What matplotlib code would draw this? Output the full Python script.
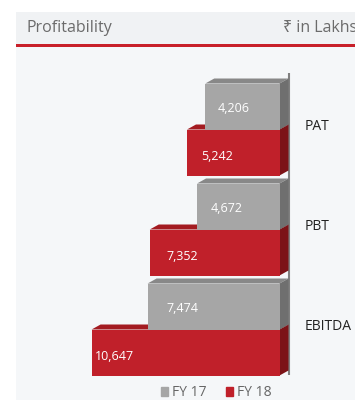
import matplotlib
matplotlib.use('Agg')
import matplotlib.pyplot as plt
from matplotlib.patches import Rectangle, Polygon

plt.rcParams['font.family'] = ['Open Sans', 'Noto Sans', 'DejaVu Sans']

# Profitability, values in lakhs
categories = ['EBITDA', 'PBT', 'PAT']
fy17 = [7474, 4672, 4206]
fy18 = [10647, 7352, 5242]
series_names = ['FY 17', 'FY 18']

# face colours: front, top, side
gray = ('#a6a6a6', '#888888', '#6f6f6f')
red = ('#c0202a', '#a31b21', '#7c1317')

W, H = 355, 400
fig = plt.figure(figsize=(W / 100, H / 100), dpi=100)
fig.patch.set_facecolor('white')

# panel and header band
fig.add_artist(Rectangle((16 / W, 0), 1, 1 - 12 / H, transform=fig.transFigure,
                         facecolor='#f5f7f9', edgecolor='none', zorder=0))
fig.add_artist(Rectangle((16 / W, 1 - 44 / H), 1, 32 / H, transform=fig.transFigure,
                         facecolor='#f0f2f4', edgecolor='none', zorder=0))
fig.add_artist(Rectangle((16 / W, 1 - 46.5 / H), 1, 2.5 / H, transform=fig.transFigure,
                         facecolor='#c8202a', edgecolor='none', zorder=1))
fig.text(27 / W, 1 - 28 / H, 'Profitability', fontsize=11.5, color='#6b6b6b',
         va='center', ha='left')
fig.text(283 / W, 1 - 28 / H, '₹ in Lakhs', fontsize=11.5, color='#6b6b6b',
         va='center', ha='left')

px_per_unit = 0.01765
ax_left, ax_right = 16, 279.5
ax = fig.add_axes([ax_left / W, 1 - 379.5 / H, (ax_right - ax_left) / W, 300 / H])
ax.set_xlim((ax_right - ax_left) / px_per_unit, 0)
ax.set_ylim(-0.5, 2.5)
ax.axis('off')
ax.patch.set_alpha(0)

bh = 0.46
depth_x = 9 / px_per_unit   # side depth in data units (to the right)
depth_y = 0.05              # top depth in data units (upwards)

# back wall line
ax.plot([-depth_x, -depth_x], [2.57, -0.45], color='#808080', lw=1.5,
        clip_on=False, zorder=1, solid_capstyle='butt')


def bar3d(y, vals, cols, z):
    bars = ax.barh(y, vals, height=bh, color=cols[0], zorder=z + 0.2)
    for b in bars:
        v = b.get_width()
        y0, y1 = b.get_y(), b.get_y() + b.get_height()
        top = [(v, y1), (0, y1), (-depth_x, y1 + depth_y), (v - depth_x, y1 + depth_y)]
        side = [(0, y0), (0, y1), (-depth_x, y1 + depth_y), (-depth_x, y0 + depth_y)]
        ax.add_patch(Polygon(top, closed=True, facecolor=cols[1], edgecolor='none',
                             zorder=z, clip_on=False))
        ax.add_patch(Polygon(side, closed=True, facecolor=cols[2], edgecolor='none',
                             zorder=z + 0.1, clip_on=False))
    return bars


pos = list(range(len(categories)))
red_bars = bar3d([p - bh / 2 for p in pos], fy18, red, 2)
gray_bars = bar3d([p + bh / 2 for p in pos], fy17, gray, 3)

# value labels, inset from the bar's left end (in px)
pads17 = [19, 14, 12]
pads18 = [3, 17, 14]
for bars, vals, pads, dy in [(gray_bars, fy17, pads17, -0.015), (red_bars, fy18, pads18, -0.035)]:
    for b, v, p in zip(bars, vals, pads):
        ax.annotate(f'{v:,}', xy=(v, b.get_y() + bh / 2 + dy),
                    xytext=(p * 0.72, 0), textcoords='offset points',
                    ha='left', va='center', color='white', fontsize=9, zorder=5)

for p, c in zip(pos, categories):
    ax.annotate(c, xy=(0, p + 0.03), xytext=(25.5 * 0.72, 0), textcoords='offset points',
                ha='left', va='center', fontsize=10, color='#222222', annotation_clip=False)

handles = [Rectangle((0, 0), 1, 1, color=gray[0]), Rectangle((0, 0), 1, 1, color=red[0])]
fig.legend(handles, series_names, loc='center', bbox_to_anchor=(216 / W, 1 - 393 / H),
           ncol=2, frameon=False, fontsize=10, labelcolor='#666666',
           handlelength=0.55, handleheight=0.55, handletextpad=0.25, columnspacing=1.4,
           borderpad=0, borderaxespad=0)

fig.savefig('out.png', dpi=100)
